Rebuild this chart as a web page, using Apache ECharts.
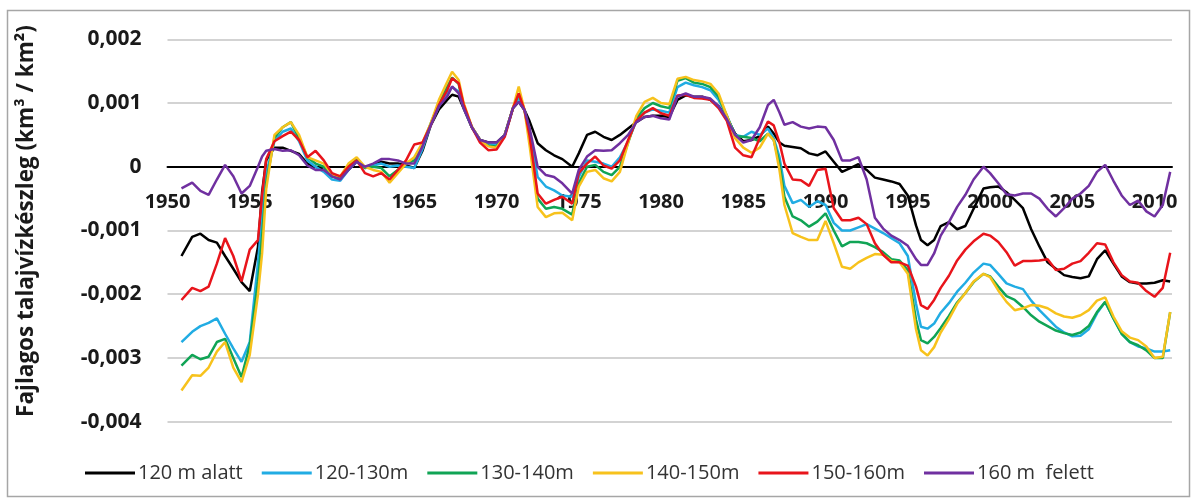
<!DOCTYPE html>
<html>
<head>
<meta charset="utf-8">
<script src="https://cdn.jsdelivr.net/npm/echarts@6/dist/echarts.min.js"></script>
<style>
  html, body { margin: 0; padding: 0; background: #ffffff; }
  #chart { width: 1197px; height: 504px; }
</style>
</head>
<body>
<div id="chart"></div>
<script>
// x positions (years) shared by all series
const years = [
  1950.85, 1951.5, 1952.0, 1952.5, 1953.0, 1953.5, 1954.0, 1954.5, 1955.0, 1955.5,
  1955.75, 1956.0, 1956.5, 1957.0, 1957.5, 1958.0, 1958.5, 1959.0, 1959.5, 1960.0, 1960.5,
  1961.0, 1961.5, 1962.0, 1962.5, 1963.0, 1963.5, 1964.0, 1964.5, 1965.0, 1965.5,
  1966.0, 1966.5, 1967.0, 1967.3, 1967.7, 1968.0, 1968.5, 1969.0, 1969.5, 1970.0, 1970.5,
  1971.0, 1971.35, 1971.7, 1972.0, 1972.5, 1973.0, 1973.5, 1974.0, 1974.6, 1975.0, 1975.5,
  1976.0, 1976.5, 1977.0, 1977.5, 1978.0, 1978.5, 1979.0, 1979.5, 1980.0, 1980.5,
  1981.0, 1981.5, 1982.0, 1982.5, 1983.0, 1983.5, 1984.0, 1984.5, 1985.0, 1985.5,
  1986.0, 1986.5, 1986.85, 1987.2, 1987.5, 1988.0, 1988.5, 1989.0, 1989.5, 1990.0, 1990.5,
  1991.0, 1991.5, 1992.0, 1992.5, 1993.0, 1993.5, 1994.0, 1994.5, 1995.0, 1995.5,
  1995.8, 1996.2, 1996.6, 1997.0, 1997.5, 1998.0, 1998.5, 1999.0, 1999.6, 2000.0, 2000.5,
  2001.0, 2001.5, 2002.0, 2002.5, 2003.0, 2003.5, 2004.0, 2004.5, 2005.0, 2005.5,
  2006.0, 2006.5, 2007.0, 2007.5, 2008.0, 2008.5, 2009.0, 2009.5, 2010.0, 2010.5, 2010.95
];

// values in units of 0.001 km3/km2
const alatt120 = [
  -1.40, -1.10, -1.05, -1.15, -1.19, -1.40, -1.60, -1.81, -1.95, -1.26,
  -0.40, 0.10, 0.30, 0.30, 0.25, 0.20, 0.05, 0.00, -0.05, -0.15, -0.18,
  -0.05, 0.08, 0.00, 0.02, 0.08, 0.05, 0.05, 0.02, -0.02, 0.25,
  0.65, 0.90, 1.05, 1.13, 1.10, 0.92, 0.62, 0.42, 0.38, 0.38, 0.50,
  0.92, 1.02, 0.89, 0.72, 0.37, 0.26, 0.18, 0.12, 0.00, 0.21, 0.50,
  0.55, 0.47, 0.42, 0.50, 0.60, 0.70, 0.78, 0.80, 0.80, 0.78,
  1.05, 1.12, 1.10, 1.10, 1.05, 0.95, 0.78, 0.52, 0.40, 0.42,
  0.48, 0.63, 0.52, 0.38, 0.33, 0.31, 0.29, 0.21, 0.18, 0.24, 0.08,
  -0.08, -0.02, 0.04, -0.05, -0.17, -0.20, -0.23, -0.27, -0.45, -0.92,
  -1.15, -1.23, -1.15, -0.93, -0.87, -0.98, -0.93, -0.66, -0.34, -0.32, -0.31,
  -0.40, -0.52, -0.65, -0.98, -1.25, -1.50, -1.60, -1.70, -1.73, -1.75,
  -1.72, -1.45, -1.31, -1.52, -1.72, -1.81, -1.83, -1.83, -1.82, -1.78, -1.80
];
const m120_130 = [
  -2.75, -2.59, -2.50, -2.45, -2.38, -2.62, -2.85, -3.06, -2.75, -1.50,
  -0.80, -0.10, 0.40, 0.55, 0.60, 0.40, 0.10, 0.00, -0.08, -0.20, -0.22,
  -0.05, 0.08, -0.02, 0.02, 0.05, 0.00, 0.02, 0.00, -0.02, 0.28,
  0.66, 0.95, 1.15, 1.25, 1.18, 0.93, 0.62, 0.42, 0.35, 0.36, 0.50,
  0.92, 1.08, 0.89, 0.58, -0.16, -0.31, -0.37, -0.45, -0.47, -0.16, 0.10,
  0.08, 0.05, 0.00, 0.15, 0.40, 0.72, 0.85, 0.90, 0.88, 0.85,
  1.25, 1.32, 1.28, 1.25, 1.20, 1.05, 0.80, 0.50, 0.47, 0.55,
  0.50, 0.60, 0.45, 0.15, -0.30, -0.57, -0.52, -0.63, -0.54, -0.60, -0.88,
  -1.00, -1.00, -0.95, -0.90, -0.97, -1.04, -1.12, -1.20, -1.40, -2.15,
  -2.51, -2.54, -2.46, -2.29, -2.14, -1.96, -1.82, -1.66, -1.52, -1.54, -1.68,
  -1.83, -1.88, -1.92, -2.10, -2.25, -2.38, -2.51, -2.60, -2.66, -2.65,
  -2.55, -2.30, -2.12, -2.38, -2.62, -2.75, -2.82, -2.85, -2.90, -2.90, -2.88
];
const m130_140 = [
  -3.12, -2.95, -3.02, -2.98, -2.75, -2.70, -3.00, -3.30, -2.80, -1.80,
  -1.10, -0.25, 0.45, 0.62, 0.70, 0.45, 0.15, 0.05, 0.00, -0.15, -0.18,
  0.00, 0.12, -0.02, 0.00, -0.02, -0.15, -0.05, 0.05, 0.10, 0.35,
  0.68, 1.00, 1.25, 1.40, 1.30, 0.95, 0.62, 0.42, 0.33, 0.32, 0.50,
  0.92, 1.15, 0.89, 0.48, -0.50, -0.66, -0.63, -0.66, -0.75, -0.26, 0.00,
  0.03, -0.08, -0.13, 0.00, 0.38, 0.76, 0.92, 1.00, 0.95, 0.92,
  1.35, 1.39, 1.32, 1.30, 1.25, 1.10, 0.80, 0.48, 0.47, 0.45,
  0.40, 0.52, 0.42, 0.05, -0.47, -0.78, -0.84, -0.94, -0.86, -0.73, -1.00,
  -1.25, -1.18, -1.18, -1.20, -1.26, -1.34, -1.45, -1.47, -1.62, -2.40,
  -2.72, -2.77, -2.67, -2.53, -2.34, -2.13, -1.98, -1.81, -1.68, -1.72, -1.88,
  -2.03, -2.09, -2.20, -2.33, -2.43, -2.50, -2.57, -2.61, -2.64, -2.60,
  -2.50, -2.28, -2.12, -2.38, -2.62, -2.75, -2.80, -2.88, -3.00, -3.00, -2.28
];
const m140_150 = [
  -3.51, -3.27, -3.28, -3.15, -2.90, -2.75, -3.15, -3.38, -2.95, -2.00,
  -1.36, -0.35, 0.50, 0.62, 0.70, 0.50, 0.15, 0.10, 0.05, -0.12, -0.15,
  0.05, 0.15, 0.00, -0.05, -0.08, -0.25, -0.10, 0.05, 0.15, 0.38,
  0.68, 1.05, 1.33, 1.49, 1.36, 1.00, 0.63, 0.42, 0.32, 0.30, 0.50,
  0.92, 1.26, 0.89, 0.35, -0.63, -0.79, -0.73, -0.72, -0.84, -0.31, -0.08,
  -0.05, -0.18, -0.23, -0.08, 0.38, 0.80, 1.02, 1.08, 1.00, 0.98,
  1.38, 1.41, 1.36, 1.34, 1.30, 1.15, 0.80, 0.45, 0.30, 0.22,
  0.30, 0.52, 0.42, -0.05, -0.60, -1.04, -1.10, -1.15, -1.15, -0.85, -1.20,
  -1.57, -1.60, -1.50, -1.43, -1.37, -1.38, -1.48, -1.50, -1.68, -2.55,
  -2.88, -2.96, -2.83, -2.60, -2.39, -2.15, -1.98, -1.80, -1.68, -1.73, -1.94,
  -2.12, -2.25, -2.22, -2.17, -2.18, -2.22, -2.30, -2.35, -2.37, -2.33,
  -2.25, -2.10, -2.05, -2.35, -2.58, -2.68, -2.72, -2.82, -3.00, -2.98, -2.28
];
const m150_160 = [
  -2.09, -1.90, -1.95, -1.88, -1.52, -1.12, -1.40, -1.80, -1.30, -1.15,
  -0.45, 0.12, 0.40, 0.48, 0.55, 0.42, 0.15, 0.25, 0.10, -0.10, -0.15,
  0.00, 0.10, -0.10, -0.15, -0.10, -0.20, -0.05, 0.10, 0.35, 0.38,
  0.65, 0.97, 1.20, 1.39, 1.31, 0.98, 0.62, 0.38, 0.26, 0.27, 0.47,
  0.92, 1.15, 0.89, 0.50, -0.42, -0.58, -0.52, -0.47, -0.58, -0.10, 0.05,
  0.16, 0.02, -0.03, 0.10, 0.42, 0.72, 0.85, 0.92, 0.84, 0.80,
  1.12, 1.13, 1.08, 1.07, 1.05, 0.92, 0.72, 0.30, 0.18, 0.15,
  0.45, 0.71, 0.65, 0.38, 0.05, -0.20, -0.21, -0.30, -0.05, -0.03, -0.65,
  -0.84, -0.84, -0.80, -0.90, -1.20, -1.38, -1.50, -1.50, -1.55, -1.88,
  -2.17, -2.23, -2.09, -1.90, -1.71, -1.47, -1.30, -1.17, -1.05, -1.08, -1.18,
  -1.34, -1.55, -1.48, -1.48, -1.47, -1.45, -1.62, -1.60, -1.52, -1.48,
  -1.35, -1.20, -1.22, -1.50, -1.70, -1.80, -1.82, -1.95, -2.04, -1.90, -1.35
];
const felett160 = [
  -0.34, -0.25, -0.38, -0.44, -0.20, 0.03, -0.15, -0.42, -0.30, 0.00,
  0.16, 0.25, 0.28, 0.25, 0.26, 0.18, 0.02, -0.05, -0.05, -0.15, -0.20,
  -0.05, 0.08, 0.00, 0.05, 0.12, 0.12, 0.10, 0.05, 0.05, 0.32,
  0.65, 0.95, 1.10, 1.26, 1.15, 0.92, 0.62, 0.42, 0.38, 0.38, 0.50,
  0.92, 1.02, 0.89, 0.62, 0.00, -0.13, -0.16, -0.26, -0.42, -0.05, 0.16,
  0.26, 0.25, 0.26, 0.37, 0.50, 0.70, 0.78, 0.80, 0.76, 0.74,
  1.10, 1.15, 1.10, 1.10, 1.07, 0.95, 0.75, 0.50, 0.38, 0.42,
  0.62, 0.97, 1.05, 0.85, 0.66, 0.70, 0.63, 0.60, 0.63, 0.62, 0.42,
  0.10, 0.10, 0.15, -0.20, -0.80, -0.97, -1.08, -1.15, -1.24, -1.45,
  -1.54, -1.54, -1.36, -1.08, -0.87, -0.63, -0.44, -0.20, 0.00, -0.10, -0.26,
  -0.43, -0.45, -0.42, -0.42, -0.50, -0.66, -0.78, -0.65, -0.50, -0.42,
  -0.30, -0.08, 0.03, -0.22, -0.45, -0.60, -0.53, -0.70, -0.78, -0.60, -0.08
];

const UNIT = 0.001;
const seriesNames = ['120 m alatt', '120-130m', '130-140m', '140-150m', '150-160m', '160 m  felett'];
const seriesValues = [alatt120, m120_130, m130_140, m140_150, m150_160, felett160];
const seriesColors = ['#000000', '#21ace3', '#10a455', '#f7c21c', '#e8141b', '#7030a0'];
const yTicks = [-0.004, -0.003, -0.002, -0.001, 0, 0.001, 0.002];
const yAxisTitle = 'Fajlagos talajvízkészleg (km³ / km²)';

const GRID_TOP = 39.3, GRID_BOTTOM = 82.3, CHART_H = 504;
const yMin = yTicks[0], yMax = yTicks[yTicks.length - 1];
// shift the x axis (line + labels) up so that it sits on the value 0
const gridH = CHART_H - GRID_TOP - GRID_BOTTOM;
const zeroOffset = -gridH * (0 - yMin) / (yMax - yMin);

const chart = echarts.init(document.getElementById('chart'), null, { renderer: 'canvas' });

function toPairs(vals) {
  return years.map((y, i) => [y, vals[i] * UNIT]);
}

const option = {
  backgroundColor: '#ffffff',
  animation: false,
  grid: { left: 167.5, right: 25, top: GRID_TOP, bottom: GRID_BOTTOM, containLabel: false, outerBoundsMode: 'none' },
  xAxis: {
    type: 'value',
    position: 'bottom',
    offset: zeroOffset,
    min: 1950,
    max: 2011.06,
    interval: 5,
    axisLine: { show: true, onZero: false, lineStyle: { color: '#000000', width: 2 } },
    axisTick: { show: false },
    splitLine: { show: false },
    axisLabel: {
      margin: 26,
      color: '#1a1a1a',
      fontFamily: 'Open Sans',
      fontWeight: 'bold',
      fontSize: 20,
      formatter: function (v) { return (Math.abs(v % 5) < 1e-9) ? String(Math.round(v)) : ''; }
    }
  },
  yAxis: {
    type: 'value',
    min: yMin,
    max: yMax,
    interval: 0.001,
    axisLine: { show: false },
    axisTick: { show: false },
    splitLine: { show: true, lineStyle: { color: '#c4c4c4', width: 1.5 } },
    axisLabel: {
      margin: 26,
      color: '#1a1a1a',
      fontFamily: 'Open Sans',
      fontWeight: 'bold',
      fontSize: 21,
      formatter: function (v) {
        if (Math.abs(v) < 1e-12) return '0';
        return v.toFixed(3).replace('.', ',');
      }
    }
  },
  legend: {
    show: true,
    left: 80,
    top: 458,
    icon: 'rect',
    itemWidth: 50,
    itemHeight: 3,
    itemGap: 19,
    textStyle: { fontFamily: 'Open Sans', fontSize: 20, color: '#333333', padding: [0, 0, 0, -2] },
    data: seriesNames
  },
  graphic: [
    {
      type: 'rect',
      shape: { x: 7.5, y: 10.5, width: 1182, height: 486 },
      style: { fill: 'none', stroke: '#a6a6a6', lineWidth: 1.5 },
      silent: true,
      z: -10
    },
    {
      type: 'text',
      x: 27,
      y: 221,
      rotation: Math.PI / 2,
      style: {
        text: yAxisTitle,
        fill: '#1a1a1a',
        font: 'bold 22.5px "Open Sans"',
        textAlign: 'center',
        textVerticalAlign: 'middle'
      },
      silent: true
    }
  ],
  series: seriesNames.map((name, i) => ({
    name: name,
    type: 'line',
    data: toPairs(seriesValues[i]),
    showSymbol: false,
    symbol: 'none',
    smooth: false,
    color: seriesColors[i],
    lineStyle: { color: seriesColors[i], width: 2.5 },
    z: 2 + i
  }))
};

chart.setOption(option);
</script>
</body>
</html>
